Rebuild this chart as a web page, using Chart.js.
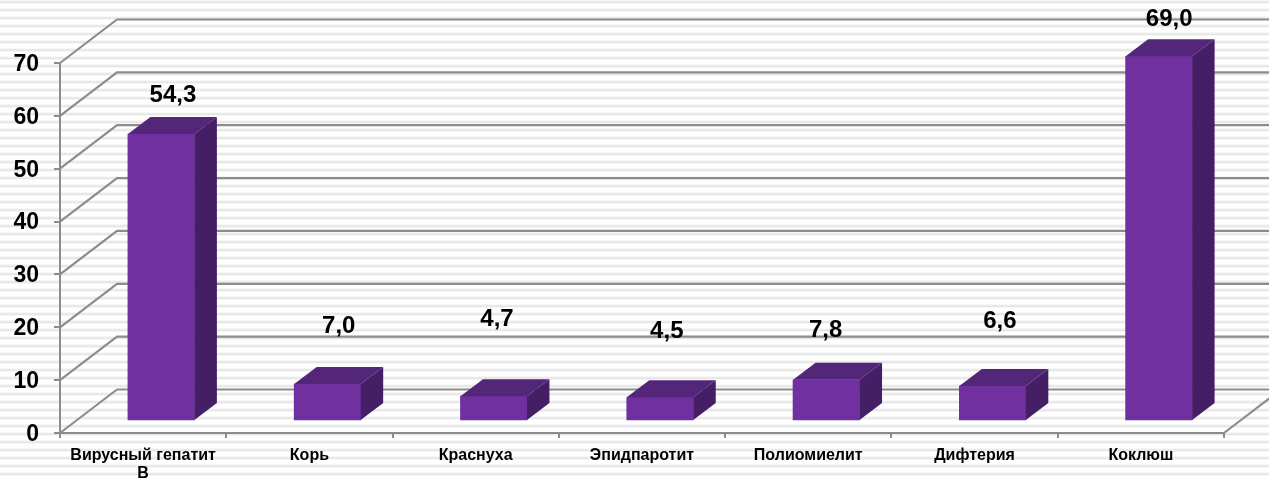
<!DOCTYPE html>
<html><head><meta charset="utf-8">
<style>
html,body{margin:0;padding:0;width:1269px;height:478px;overflow:hidden;background:#fff;}
body{background-image:repeating-linear-gradient(to bottom,#fff 0px,#ececec 1.2px,#e6e6e6 2.6px,#fff 4px,#fff 8px);}
canvas{display:block;}
</style>
<script src="https://cdn.jsdelivr.net/npm/chart.js@4"></script>
</head><body>
<canvas id="c" width="1269" height="478"></canvas>
<script>
const categories = [["Вирусный гепатит","В"],"Корь","Краснуха","Эпидпаротит","Полиомиелит","Дифтерия","Коклюш"];
const values = [54.3,7.0,4.7,4.5,7.8,6.6,69.0];
const yTicks = [0,10,20,30,40,50,60,70];
// hand-placed label nudges of the original, relative to each bar's front-top centre
const labelDx = [12.5,12,4,7.5,0,8,11];
const labelDy = [39,57.5,76.5,65.5,49.5,64.5,37];

const GREY = '#8c8c8c';
const wallDx = 57, wallDy = -43.5;   // depth of the chart floor
const barShiftX = 18, barShiftY = -12; // bars stand in the middle of the floor
const barDx = 22.5, barDy = -17;     // depth of a bar

const threeD = {
  id:'threeD',
  beforeDatasetsDraw(chart){
    const {ctx,scales:{x,y}} = chart;
    ctx.save();
    ctx.strokeStyle = GREY; ctx.lineWidth = 2.2; ctx.lineJoin='round';
    yTicks.forEach(v=>{
      const py = y.getPixelForValue(v);
      ctx.beginPath();
      ctx.moveTo(x.left,py);
      ctx.lineTo(x.left+wallDx,py+wallDy);
      ctx.lineTo(chart.width+2,py+wallDy);
      ctx.stroke();
    });
    const by = y.getPixelForValue(0);
    ctx.beginPath();
    ctx.moveTo(x.right,by);
    ctx.lineTo(x.right+wallDx,by+wallDy);
    ctx.stroke();
    ctx.restore();
    ctx.save();
    ctx.translate(barShiftX,barShiftY);
  },
  afterDatasetsDraw(chart){
    const {ctx} = chart;
    const meta = chart.getDatasetMeta(0);
    meta.data.forEach(b=>{
      const p = b.getProps(['x','y','base','width'],true);
      const l = p.x-p.width/2, r = p.x+p.width/2;
      ctx.fillStyle = '#54267a';
      ctx.beginPath();
      ctx.moveTo(l,p.y); ctx.lineTo(l+barDx,p.y+barDy); ctx.lineTo(r+barDx,p.y+barDy); ctx.lineTo(r,p.y);
      ctx.closePath(); ctx.fill();
      ctx.fillStyle = '#451f66';
      ctx.beginPath();
      ctx.moveTo(r,p.y); ctx.lineTo(r+barDx,p.y+barDy); ctx.lineTo(r+barDx,p.base+barDy); ctx.lineTo(r,p.base);
      ctx.closePath(); ctx.fill();
    });
    ctx.restore();
    ctx.save();
    ctx.fillStyle = '#000';
    ctx.font = 'bold 24px "Liberation Sans", Arial, sans-serif';
    ctx.textAlign = 'center'; ctx.textBaseline = 'middle';
    meta.data.forEach((b,i)=>{
      const p = b.getProps(['x','y'],true);
      ctx.fillText(values[i].toFixed(1).replace('.',','),
        p.x+barShiftX+labelDx[i]-0.7, p.y+barShiftY-labelDy[i]);
    });
    ctx.restore();
  }
};

new Chart(document.getElementById('c'),{
  type:'bar',
  data:{labels:categories,datasets:[{
    data:values,
    backgroundColor:'#7030a0',
    borderWidth:0,
    barThickness:66.5,
    clip:false
  }]},
  options:{
    responsive:false,animation:false,
    devicePixelRatio:1,
    layout:{padding:{top:63,right:45,left:0,bottom:0}},
    plugins:{legend:{display:false},tooltip:{enabled:false},title:{display:false}},
    scales:{
      x:{
        afterFit(s){s.height=45;},
        grid:{drawOnChartArea:false,drawTicks:true,tickLength:5,color:GREY,lineWidth:2},
        border:{display:true,color:GREY,width:2},
        ticks:{color:'#000',autoSkip:false,maxRotation:0,padding:8,
          font:{family:'"Liberation Sans", Arial, sans-serif',size:16,weight:'bold',lineHeight:1.15}}
      },
      y:{
        min:0,max:70,
        afterFit(s){s.width=60;},
        afterBuildTicks(s){s.ticks=yTicks.map(v=>({value:v}));},
        grid:{drawOnChartArea:false,drawTicks:true,tickLength:6,color:GREY,lineWidth:2},
        border:{display:true,color:GREY,width:2},
        ticks:{color:'#000',padding:15,labelOffset:1.5,
          font:{family:'"Liberation Sans", Arial, sans-serif',size:23,weight:'bold'}}
      }
    }
  },
  plugins:[threeD]
});
</script>
</body></html>
